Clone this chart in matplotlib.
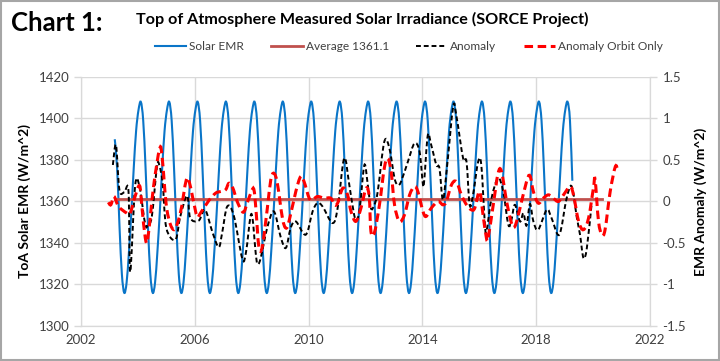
import numpy as np
import matplotlib
matplotlib.use("Agg")
import matplotlib.pyplot as plt
from matplotlib.path import Path
from matplotlib.patches import PathPatch, Rectangle
from matplotlib.lines import Line2D

plt.rcParams['font.family'] = ['Lato', 'DejaVu Sans']

# Solar EMR, monthly readings (W/m^2), one row per year
emr_first_year = 2003
emr_first_month = 3
emr_rows = [
    [1390, 1376, 1348, 1325, 1316, 1321, 1336, 1355, 1376, 1394],             # 2003 Mar-Dec
    [1404, 1408, 1399, 1376, 1348, 1325, 1316, 1321, 1336, 1355, 1376, 1394],  # 2004
    [1404, 1408, 1399, 1376, 1348, 1325, 1316, 1321, 1336, 1355, 1376, 1394],  # 2005
    [1404, 1408, 1399, 1376, 1348, 1325, 1316, 1321, 1336, 1355, 1376, 1394],  # 2006
    [1404, 1408, 1399, 1376, 1348, 1325, 1316, 1321, 1336, 1355, 1376, 1394],  # 2007
    [1404, 1408, 1399, 1376, 1348, 1325, 1316, 1321, 1336, 1355, 1376, 1394],  # 2008
    [1404, 1408, 1399, 1376, 1348, 1325, 1316, 1321, 1336, 1355, 1376, 1394],  # 2009
    [1404, 1408, 1399, 1376, 1348, 1325, 1316, 1321, 1336, 1355, 1376, 1394],  # 2010
    [1404, 1408, 1399, 1376, 1348, 1325, 1316, 1321, 1336, 1355, 1376, 1394],  # 2011
    [1404, 1408, 1399, 1376, 1348, 1325, 1316, 1321, 1336, 1355, 1376, 1394],  # 2012
    [1404, 1408, 1399, 1376, 1348, 1325, 1316, 1321, 1336, 1355, 1376, 1394],  # 2013
    [1404, 1408, 1399, 1376, 1348, 1325, 1316, 1321, 1336, 1355, 1376, 1394],  # 2014
    [1404, 1408, 1399, 1376, 1348, 1325, 1316, 1321, 1336, 1355, 1376, 1394],  # 2015
    [1404, 1408, 1399, 1376, 1348, 1325, 1316, 1321, 1336, 1355, 1376, 1394],  # 2016
    [1404, 1408, 1399, 1376, 1348, 1325, 1316, 1321, 1336, 1355, 1376, 1394],  # 2017
    [1404, 1408, 1399, 1376, 1348, 1325, 1316, 1321, 1336, 1355, 1376, 1394],  # 2018
    [1404, 1408, 1399, 1370],                                                  # 2019 Jan-Apr
]

avg_value = 1361.1
avg_start, avg_end = 2003.2, 2020.3

# Anomaly (right axis)
anom_years = [2003.12, 2003.23, 2003.35, 2003.52, 2003.67, 2003.73, 2003.90, 2004.05, 2004.26, 2004.37,
              2004.49, 2004.67, 2004.75, 2004.87, 2005.00, 2005.32, 2005.49, 2005.73, 2005.84, 2006.14,
              2006.36, 2006.62, 2006.84, 2006.96, 2007.14, 2007.37, 2007.67, 2007.80, 2007.99, 2008.14,
              2008.20, 2008.31, 2008.55, 2008.78, 2009.02, 2009.20, 2009.37, 2009.55, 2009.90, 2010.14,
              2010.31, 2010.49, 2010.84, 2011.02, 2011.25, 2011.43, 2011.60, 2011.70, 2011.80, 2011.96,
              2012.08, 2012.19, 2012.31, 2012.43, 2012.66, 2012.84, 2013.02, 2013.14, 2013.25, 2013.49,
              2013.72, 2013.90, 2014.02, 2014.07, 2014.19, 2014.31, 2014.49, 2014.60, 2014.72, 2014.86,
              2015.08, 2015.19, 2015.43, 2015.55, 2015.66, 2015.78, 2015.96, 2016.07, 2016.19, 2016.25,
              2016.43, 2016.66, 2016.84, 2017.02, 2017.13, 2017.25, 2017.43, 2017.55, 2017.66, 2017.78,
              2017.90, 2018.07, 2018.37, 2018.54, 2018.81, 2019.07, 2019.25, 2019.43, 2019.54, 2019.66,
              2019.78, 2019.95]
anom_values = [0.44, 0.68, 0.14, 0.11, 0.12, -0.85, 0.18, 0.19, -0.28, -0.26,
               -0.18, 0.42, 0.44, 0.22, -0.32, -0.46, -0.18, 0.07, -0.20, -0.23,
               -0.10, -0.37, -0.55, -0.38, -0.06, -0.17, -0.69, -0.61, -0.15, -0.62,
               -0.75, -0.69, -0.31, -0.12, -0.43, -0.56, -0.32, -0.24, -0.40, -0.12,
               -0.02, -0.06, -0.26, -0.08, 0.52, 0.20, -0.16, -0.22, -0.08, 0.44,
               0.20, -0.08, -0.04, 0.12, 0.72, 0.64, 0.28, 0.20, 0.24, 0.48,
               0.70, 0.60, 0.20, 0.28, 0.80, 0.68, 0.44, 0.40, 0.02, 0.40,
               1.14, 1.04, 0.52, 0.48, -0.04, 0.08, 0.48, 0.44, -0.24, -0.36,
               0.04, 0.28, 0.12, -0.28, -0.22, -0.04, -0.24, -0.14, -0.29, -0.03,
               -0.24, -0.34, -0.10, -0.20, -0.40, 0.04, 0.18, -0.20, -0.40, -0.68,
               -0.56, -0.02]

# Anomaly Orbit Only (right axis)
orbit_years = [2002.96, 2003.05, 2003.16, 2003.32, 2003.61, 2003.73, 2003.90, 2004.06, 2004.14, 2004.26,
               2004.35, 2004.55, 2004.76, 2004.85, 2005.02, 2005.26, 2005.49, 2005.70, 2005.81, 2005.93,
               2006.08, 2006.20, 2006.49, 2006.73, 2006.90, 2007.08, 2007.20, 2007.34, 2007.49, 2007.70,
               2007.84, 2008.00, 2008.08, 2008.15, 2008.25, 2008.37, 2008.55, 2008.67, 2008.78, 2008.90,
               2009.08, 2009.20, 2009.31, 2009.55, 2009.72, 2009.84, 2010.02, 2010.14, 2010.31, 2010.55,
               2010.78, 2010.90, 2011.02, 2011.20, 2011.37, 2011.49, 2011.66, 2011.84, 2012.02, 2012.13,
               2012.19, 2012.31, 2012.49, 2012.66, 2012.78, 2012.90, 2013.02, 2013.19, 2013.37, 2013.55,
               2013.72, 2013.84, 2014.02, 2014.13, 2014.31, 2014.55, 2014.72, 2014.84, 2015.02, 2015.19,
               2015.37, 2015.55, 2015.72, 2015.84, 2016.01, 2016.13, 2016.25, 2016.31, 2016.49, 2016.66,
               2016.78, 2016.96, 2017.13, 2017.25, 2017.43, 2017.66, 2017.78, 2017.90, 2018.07, 2018.25,
               2018.43, 2018.60, 2018.78, 2018.96, 2019.19, 2019.31, 2019.49, 2019.66, 2019.84, 2020.01,
               2020.07, 2020.19, 2020.31, 2020.42, 2020.60, 2020.78, 2020.86]
orbit_values = [-0.01, -0.04, 0.06, -0.06, -0.14, -0.14, 0.06, 0.19, -0.06, -0.44,
                -0.44, 0.18, 0.63, 0.54, -0.10, -0.34, -0.14, 0.26, 0.23, 0.04,
                -0.18, -0.14, 0.01, 0.10, 0.12, 0.14, 0.22, 0.16, 0.00, -0.13,
                -0.02, 0.13, 0.14, -0.10, -0.54, -0.55, -0.08, 0.26, 0.34, 0.22,
                -0.20, -0.32, -0.24, 0.12, 0.30, 0.24, 0.04, 0.02, 0.06, 0.04,
                0.04, -0.04, -0.02, 0.16, 0.08, -0.12, -0.24, -0.08, 0.16, 0.06,
                -0.36, -0.38, -0.04, 0.40, 0.52, 0.36, -0.04, -0.24, -0.16, 0.08,
                0.18, 0.12, -0.12, -0.18, -0.08, 0.00, -0.04, 0.00, 0.20, 0.24,
                0.08, -0.04, -0.10, -0.08, 0.12, -0.16, -0.44, -0.44, -0.04, 0.34,
                0.36, 0.00, -0.26, -0.30, -0.08, 0.24, 0.31, 0.12, -0.02, 0.04,
                0.08, 0.04, 0.00, 0.08, 0.18, 0.08, -0.24, -0.34, -0.20, 0.16,
                0.26, -0.24, -0.40, -0.34, 0.12, 0.42, 0.38]

x_ticks = [2002, 2006, 2010, 2014, 2018, 2022]
left_ticks = [1300, 1320, 1340, 1360, 1380, 1400, 1420]
right_ticks = [-1.5, -1, -0.5, 0, 0.5, 1, 1.5]
right_labels = ['-1.5', '-1', '-0.5', '0', '0.5', '1', '1.5']

# month positions for the EMR readings
emr_x, emr_y = [], []
for r, row in enumerate(emr_rows):
    year = emr_first_year + r
    m0 = emr_first_month if r == 0 else 1
    for k, v in enumerate(row):
        emr_x.append(year + (m0 - 1 + k) / 12 + 0.02)
        emr_y.append(v)


def smooth_line(ax, x, y, **kw):
    # Excel style smoothed line: Catmull-Rom segments as cubic Beziers
    x = np.asarray(x, float)
    y = np.asarray(y, float)
    n = len(x)
    verts = [(x[0], y[0])]
    codes = [Path.MOVETO]
    for i in range(n - 1):
        a = i - 1 if i > 0 else i
        d = i + 2 if i + 2 < n else i + 1
        c1 = (x[i] + (x[i + 1] - x[a]) / 6, y[i] + (y[i + 1] - y[a]) / 6)
        c2 = (x[i + 1] - (x[d] - x[i]) / 6, y[i + 1] - (y[d] - y[i]) / 6)
        verts += [c1, c2, (x[i + 1], y[i + 1])]
        codes += [Path.CURVE4] * 3
    ax.add_patch(PathPatch(Path(verts, codes), fill=False, **kw))


blue = '#0A75C8'
avg_red = '#C0504D'
black = '#000000'
red = '#FF0000'
grid = '#D9D9D9'

fig = plt.figure(figsize=(7.2, 3.61), dpi=100)
ax = fig.add_axes([0.1125, 0.097, 0.7903, 0.6897])
ax2 = ax.twinx()

smooth_line(ax, emr_x, emr_y, edgecolor=blue, lw=1.5, zorder=3)
ax.plot([avg_start, avg_end], [avg_value, avg_value], color=avg_red, lw=2.0, zorder=4)

smooth_line(ax2, anom_years, anom_values, edgecolor=black, lw=1.4,
            linestyle=(0, (2.5, 1.5)), capstyle='butt', zorder=3)
smooth_line(ax2, orbit_years, orbit_values, edgecolor=red, lw=2.2,
            linestyle=(0, (2.8, 1.5)), capstyle='butt', zorder=4)

ax.set_xlim(2002, 2022)
ax.set_ylim(1300, 1420)
ax2.set_ylim(-1.5, 1.5)
ax.set_xticks(x_ticks)
ax.set_yticks(left_ticks)
ax2.set_yticks(right_ticks)
ax2.set_yticklabels(right_labels)

ax.grid(True, color=grid, lw=1)
ax.set_axisbelow(True)
for a in (ax, ax2):
    for s in a.spines.values():
        s.set_color(grid)
    a.tick_params(colors='#595959', labelsize=9.5, labelcolor='#404040')
ax.spines['top'].set_visible(False)
ax2.spines['top'].set_visible(False)
ax.tick_params(axis='x', length=0, pad=6)
ax.tick_params(axis='y', length=5, width=1, color=grid, pad=3)
ax2.tick_params(axis='y', length=5, width=1, color=grid, pad=4)

ax.set_ylabel('ToA Solar EMR (W/m^2)', fontsize=10, fontweight='bold', labelpad=6)
ax2.set_ylabel('EMR Anomaly (W/m^2)', fontsize=10, fontweight='bold', labelpad=6)

fig.text(0.015, 0.935, 'Chart 1:', fontsize=18.5, fontweight='bold', va='center', ha='left')
fig.text(0.503, 0.945, 'Top of Atmosphere Measured Solar Irradiance (SORCE Project)',
         fontsize=11.6, fontweight='bold', va='center', ha='center')

handles = [Line2D([], [], color=blue, lw=1.5),
           Line2D([], [], color=avg_red, lw=2.0),
           Line2D([], [], color=black, lw=1.4, linestyle=(0, (2.5, 1.5))),
           Line2D([], [], color=red, lw=2.2, linestyle=(0, (2.8, 1.5)))]
labels = ['Solar EMR', 'Average 1361.1', 'Anomaly', 'Anomaly Orbit Only']
fig.legend(handles, labels, loc='center', bbox_to_anchor=(0.568, 0.87), ncol=4,
           frameon=False, fontsize=8.6, handlelength=2.6, handletextpad=0.25,
           columnspacing=2.3, labelcolor='#404040')

fig.patches.append(Rectangle((0.002, 0.003), 0.996, 0.994, transform=fig.transFigure,
                             fill=False, edgecolor='#A6A6A6', lw=1.5))

fig.savefig('out.png', dpi=100)
